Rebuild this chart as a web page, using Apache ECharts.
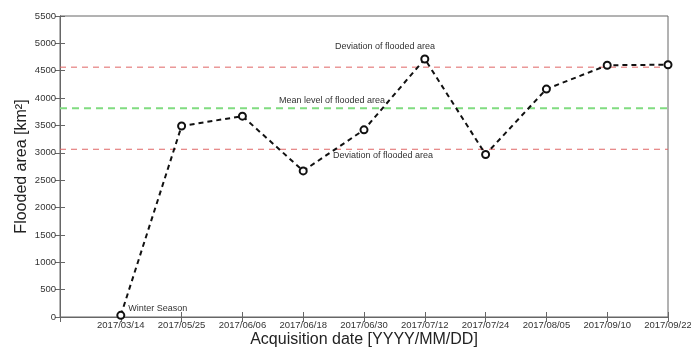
<!DOCTYPE html>
<html>
<head>
<meta charset="utf-8">
<script src="https://cdn.jsdelivr.net/npm/echarts@6/dist/echarts.min.js"></script>
<style>
  html, body { margin: 0; padding: 0; background: #fff; }
  #main { width: 691px; height: 347px; }
</style>
</head>
<body>
<div id="main"></div>
<script>
// 数据
var dates = ['2017/03/14', '2017/05/25', '2017/06/06', '2017/06/18', '2017/06/30',
             '2017/07/12', '2017/07/24', '2017/08/05', '2017/09/10', '2017/09/22'];
var areas = [30, 3490, 3670, 2670, 3420, 4715, 2970, 4165, 4600, 4610];
var meanLevel = 3815;
var upperDev = 4565;
var lowerDev = 3065;

var chart = echarts.init(document.getElementById('main'));

var points = dates.map(function (d, i) { return [i + 1, areas[i]]; });
var font = 'Liberation Sans, Arial, sans-serif';
var axisColor = '#666';

// 水平参考线
const refLine = (value, color, width, dash) => ({
    type: 'line',
    data: [[0, value], [10, value]],
    symbol: 'none',
    silent: true,
    z: 1,
    lineStyle: { color: color, width: width, type: dash }
});

var option = {
    animation: false,
    grid: {
        left: 60, right: 23, top: 16, bottom: 30,
        outerBoundsMode: 'none', containLabel: false,
        show: true, borderColor: axisColor, borderWidth: 1
    },
    xAxis: [
        {
            type: 'value', min: 0, max: 10, interval: 1,
            axisLine: { lineStyle: { color: axisColor } },
            axisTick: { inside: true, length: 5, lineStyle: { color: axisColor } },
            splitLine: { show: false },
            axisLabel: {
                fontFamily: font, fontSize: 9.5, color: '#333', margin: 3,
                formatter: function (v) { return v >= 1 ? dates[v - 1] : ''; }
            },
            name: 'Acquisition date [YYYY/MM/DD]',
            nameLocation: 'middle', nameGap: 15, nameMoveOverlap: false,
            nameTextStyle: { fontFamily: font, fontSize: 16, color: '#222' }
        },
        {
            type: 'value', min: 0, max: 10, interval: 1, position: 'top',
            axisLine: { lineStyle: { color: axisColor } },
            axisTick: { inside: true, length: 5, lineStyle: { color: axisColor } },
            axisLabel: { show: false }, splitLine: { show: false }
        }
    ],
    yAxis: [
        {
            type: 'value', min: 0, max: 5500, interval: 500,
            axisLine: { show: true, lineStyle: { color: axisColor } },
            axisTick: { show: true, inside: true, length: 5, lineStyle: { color: axisColor } },
            splitLine: { show: false },
            axisLabel: {
                fontFamily: font, fontSize: 9.5, color: '#333', margin: 4,
                formatter: function (v) { return String(v); }
            },
            name: 'Flooded area [km²]',
            nameLocation: 'middle', nameGap: 30, nameMoveOverlap: false,
            nameTextStyle: { fontFamily: font, fontSize: 16, color: '#222' }
        },
        {
            type: 'value', min: 0, max: 5500, interval: 500, position: 'right',
            axisLine: { show: true, lineStyle: { color: axisColor } },
            axisTick: { show: true, inside: true, length: 5, lineStyle: { color: axisColor } },
            axisLabel: { show: false }, splitLine: { show: false }
        }
    ],
    series: [
        refLine(upperDev, '#e06565', 1, [6, 5]),
        refLine(lowerDev, '#e06565', 1, [6, 5]),
        refLine(meanLevel, '#80dc80', 2, [7, 5]),
        {
            type: 'line',
            data: points,
            symbol: 'emptyCircle',
            symbolSize: 7,
            itemStyle: { color: '#111', borderColor: '#111', borderWidth: 2 },
            lineStyle: { color: '#111', width: 2, type: [5, 4] },
            label: {
                show: true, position: 'right', distance: 3, offset: [0, -7],
                fontFamily: font, fontSize: 9, color: '#333',
                formatter: function (p) { return p.dataIndex === 0 ? 'Winter Season' : ''; }
            },
            z: 3
        }
    ],
    graphic: [
        { type: 'text', x: 385, y: 47, style: { text: 'Deviation of flooded area', fontFamily: font, fontSize: 9, fill: '#333', align: 'center', verticalAlign: 'middle' } },
        { type: 'text', x: 332, y: 101, style: { text: 'Mean level of flooded area', fontFamily: font, fontSize: 9, fill: '#333', align: 'center', verticalAlign: 'middle' } },
        { type: 'text', x: 383, y: 156, style: { text: 'Deviation of flooded area', fontFamily: font, fontSize: 9, fill: '#333', align: 'center', verticalAlign: 'middle' } }
    ]
};

chart.setOption(option);
</script>
</body>
</html>
